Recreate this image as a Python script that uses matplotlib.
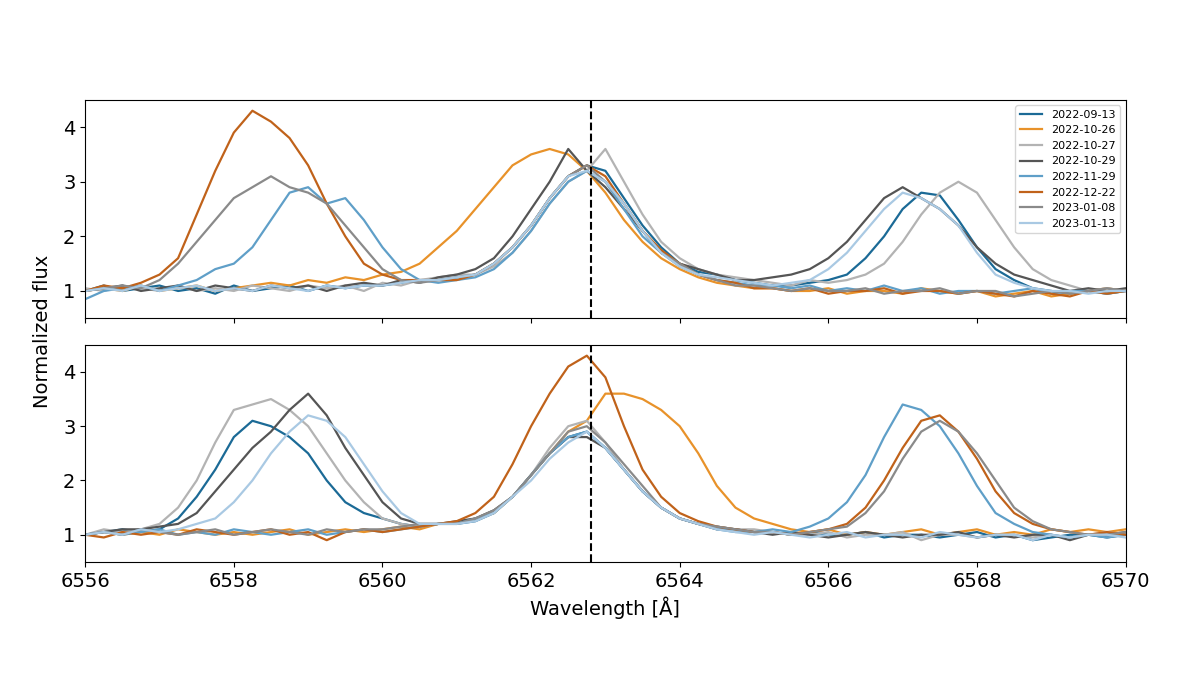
import numpy as np
import matplotlib
matplotlib.use("Agg")
import matplotlib.pyplot as plt

dates = ["2022-09-13","2022-10-26","2022-10-27","2022-10-29","2022-11-29","2022-12-22","2023-01-08","2023-01-13"]
colors = ["#1b6a96","#e8922a","#b3b3b3","#555555","#5f9fc8","#c0621a","#8a8a8a","#a9c9e3"]
wl_min, wl_max = 6556, 6570
line_center = 6562.8

# Top panel spectra (sampled every 0.25 A from 6556 to 6570)
top = [
 [1.0,1.1,1.0,1.05,1.1,1.0,1.05,0.95,1.1,1.0,1.05,1.1,1.0,1.1,1.05,1.1,1.1,1.15,1.2,1.2,
  1.25,1.3,1.5,1.8,2.2,2.7,3.1,3.3,3.2,2.7,2.2,1.8,1.5,1.35,1.3,1.2,1.15,
  1.1,1.1,1.15,1.2,1.3,1.6,2.0,2.5,2.8,2.75,2.3,1.8,1.4,1.2,1.05,1.0,0.95,1.0,0.95,1.0],
 [1.0,1.05,1.0,1.1,1.0,1.05,1.1,1.0,1.05,1.1,1.15,1.1,1.2,1.15,1.25,1.2,1.3,1.35,1.5,1.8,
  2.1,2.5,2.9,3.3,3.5,3.6,3.5,3.2,2.8,2.3,1.9,1.6,1.4,1.25,1.15,1.1,1.05,
  1.05,1.0,1.0,1.05,0.95,1.0,1.0,0.95,1.05,1.0,0.95,1.0,0.9,0.95,1.0,0.9,0.95,1.0,1.05,1.0],
 [1.05,1.0,1.1,1.05,1.0,1.1,1.0,1.05,1.0,1.1,1.05,1.0,1.1,1.05,1.1,1.0,1.15,1.1,1.2,1.25,
  1.3,1.3,1.45,1.7,2.1,2.6,3.0,3.2,3.6,3.0,2.4,1.9,1.6,1.4,1.3,1.25,1.2,
  1.15,1.1,1.2,1.15,1.2,1.3,1.5,1.9,2.4,2.8,3.0,2.8,2.3,1.8,1.4,1.2,1.1,1.0,1.05,1.0],
 [1.0,1.05,1.1,1.0,1.05,1.1,1.0,1.1,1.05,1.0,1.1,1.05,1.1,1.0,1.1,1.15,1.1,1.2,1.15,1.25,
  1.3,1.4,1.6,2.0,2.5,3.0,3.6,3.2,2.9,2.5,2.1,1.7,1.5,1.4,1.3,1.2,1.2,
  1.25,1.3,1.4,1.6,1.9,2.3,2.7,2.9,2.7,2.5,2.2,1.8,1.5,1.3,1.2,1.1,1.0,1.05,1.0,1.05],
 [0.85,1.0,1.05,1.1,1.0,1.1,1.2,1.4,1.5,1.8,2.3,2.8,2.9,2.6,2.7,2.3,1.8,1.4,1.2,1.15,
  1.2,1.25,1.4,1.7,2.1,2.6,3.0,3.2,3.0,2.5,2.0,1.7,1.45,1.3,1.2,1.15,1.1,
  1.1,1.05,1.1,1.0,1.05,1.0,1.1,1.0,1.05,0.95,1.0,1.0,0.95,1.0,1.05,0.95,1.0,1.0,0.95,1.0],
 [1.0,1.1,1.05,1.15,1.3,1.6,2.4,3.2,3.9,4.3,4.1,3.8,3.3,2.6,2.0,1.5,1.3,1.2,1.2,1.2,
  1.2,1.3,1.5,1.8,2.2,2.7,3.1,3.3,3.1,2.6,2.1,1.75,1.5,1.3,1.2,1.15,1.05,
  1.05,1.0,1.05,0.95,1.0,1.0,1.05,0.95,1.0,1.0,0.95,1.0,0.95,0.9,1.0,0.95,0.9,1.0,0.95,1.0],
 [1.0,1.05,1.1,1.05,1.2,1.5,1.9,2.3,2.7,2.9,3.1,2.9,2.8,2.6,2.2,1.8,1.4,1.2,1.15,1.2,
  1.25,1.3,1.5,1.8,2.2,2.7,3.1,3.3,3.0,2.6,2.1,1.7,1.5,1.3,1.2,1.1,1.1,
  1.05,1.0,1.05,1.0,1.0,1.05,0.95,1.0,1.0,1.05,0.95,1.0,1.0,0.9,0.95,1.0,0.95,1.0,1.05,1.0],
 [1.0,1.05,1.0,1.1,1.0,1.05,1.1,1.0,1.05,1.0,1.1,1.05,1.0,1.1,1.05,1.1,1.1,1.15,1.2,1.2,
  1.25,1.3,1.5,1.8,2.2,2.7,3.1,3.2,3.0,2.6,2.1,1.7,1.45,1.3,1.25,1.2,1.15,
  1.1,1.15,1.2,1.4,1.7,2.1,2.5,2.8,2.7,2.5,2.2,1.7,1.3,1.15,1.05,1.0,1.0,0.95,1.0,1.0],
]

# Bottom panel spectra
bottom = [
 [1.0,1.05,1.1,1.05,1.1,1.3,1.7,2.2,2.8,3.1,3.0,2.8,2.5,2.0,1.6,1.4,1.3,1.2,1.15,1.2,
  1.2,1.25,1.4,1.7,2.1,2.5,2.8,2.9,2.6,2.2,1.8,1.5,1.3,1.2,1.15,1.1,1.05,
  1.05,1.0,1.05,1.0,1.0,1.05,0.95,1.0,1.0,0.95,1.0,1.05,0.95,1.0,0.9,0.95,1.0,1.0,0.95,1.0],
 [1.0,1.05,1.0,1.05,1.0,1.1,1.05,1.0,1.05,1.0,1.05,1.1,1.0,1.05,1.1,1.05,1.1,1.15,1.1,1.2,
  1.2,1.3,1.4,1.7,2.1,2.5,2.9,3.1,3.6,3.6,3.5,3.3,3.0,2.5,1.9,1.5,1.3,
  1.2,1.1,1.05,1.1,1.0,1.05,1.0,1.05,1.1,1.0,1.05,1.1,1.0,1.05,1.0,1.1,1.05,1.1,1.05,1.1],
 [1.0,1.1,1.05,1.1,1.2,1.5,2.0,2.7,3.3,3.4,3.5,3.3,3.0,2.5,2.0,1.6,1.3,1.2,1.15,1.2,
  1.2,1.3,1.45,1.7,2.1,2.6,3.0,3.1,2.7,2.2,1.8,1.5,1.3,1.2,1.15,1.1,1.1,
  1.05,1.0,1.0,1.05,0.95,1.0,1.0,1.05,0.9,1.0,1.0,0.95,1.0,1.0,0.95,1.0,0.95,1.0,1.05,1.0],
 [1.0,1.05,1.1,1.1,1.15,1.2,1.4,1.8,2.2,2.6,2.9,3.3,3.6,3.2,2.6,2.1,1.6,1.3,1.2,1.2,
  1.25,1.3,1.45,1.7,2.1,2.5,2.8,2.8,2.6,2.2,1.8,1.5,1.3,1.2,1.1,1.1,1.05,
  1.0,1.05,1.0,0.95,1.0,1.05,1.0,0.95,1.0,1.0,1.05,0.95,1.0,0.95,1.0,1.0,0.9,1.0,1.0,1.05],
 [1.0,1.05,1.0,1.05,1.1,1.0,1.05,1.0,1.1,1.05,1.0,1.05,1.1,1.0,1.05,1.1,1.05,1.1,1.15,1.2,
  1.2,1.3,1.4,1.7,2.1,2.5,2.8,2.9,2.6,2.2,1.8,1.5,1.3,1.2,1.1,1.05,1.05,
  1.1,1.05,1.15,1.3,1.6,2.1,2.8,3.4,3.3,3.0,2.5,1.9,1.4,1.2,1.05,1.0,0.95,1.0,0.95,1.0],
 [1.0,0.95,1.05,1.0,1.05,1.0,1.1,1.05,1.0,1.05,1.1,1.0,1.05,0.9,1.05,1.1,1.05,1.1,1.15,1.2,
  1.25,1.4,1.7,2.3,3.0,3.6,4.1,4.3,3.9,3.0,2.2,1.7,1.4,1.25,1.15,1.1,1.05,
  1.05,1.0,1.05,1.1,1.2,1.5,2.0,2.6,3.1,3.2,2.9,2.4,1.8,1.4,1.2,1.1,1.05,1.0,1.05,1.0],
 [1.0,1.05,1.0,1.1,1.05,1.0,1.05,1.1,1.0,1.05,1.1,1.05,1.0,1.1,1.05,1.1,1.1,1.15,1.2,1.2,
  1.2,1.3,1.45,1.7,2.1,2.5,2.9,3.0,2.7,2.3,1.9,1.5,1.3,1.2,1.15,1.1,1.05,
  1.05,1.0,1.05,1.1,1.15,1.4,1.8,2.4,2.9,3.1,2.9,2.5,2.0,1.5,1.25,1.1,1.05,1.0,1.0,1.05],
 [1.0,1.05,1.0,1.1,1.05,1.1,1.2,1.3,1.6,2.0,2.5,2.9,3.2,3.1,2.8,2.3,1.8,1.4,1.2,1.2,
  1.2,1.25,1.4,1.7,2.0,2.4,2.7,2.9,2.6,2.2,1.8,1.5,1.3,1.2,1.1,1.05,1.0,
  1.05,1.0,0.95,1.0,1.05,0.95,1.0,1.0,0.95,1.05,1.0,0.95,1.0,1.0,0.9,1.0,0.95,1.0,1.0,0.95],
]

fig = plt.figure(figsize=(12, 6.98), dpi=100)
ax1 = fig.add_axes([0.071, 0.544, 0.867, 0.313])
ax2 = fig.add_axes([0.071, 0.195, 0.867, 0.311], sharex=ax1)

for ax, data in ((ax1, top), (ax2, bottom)):
    for vals, c, d in zip(data, colors, dates):
        x = np.linspace(wl_min, wl_max, len(vals))
        ax.plot(x, vals, color=c, lw=1.6, label=d)
    ax.axvline(line_center, color="black", ls="--", lw=1.5)
    ax.set_ylim(0.5, 4.5)
    ax.set_yticks([1, 2, 3, 4])
    ax.tick_params(labelsize=14)

ax1.set_xlim(wl_min, wl_max)
ax1.tick_params(labelbottom=False)
ax2.set_xticks([6556, 6558, 6560, 6562, 6564, 6566, 6568, 6570])
ax2.set_xlabel("Wavelength [Å]", fontsize=14)
ax1.legend(loc="upper right", fontsize=8)
fig.text(0.035, 0.525, "Normalized flux", rotation=90, va="center", ha="center", fontsize=14)

fig.savefig("out.png", dpi=100)
